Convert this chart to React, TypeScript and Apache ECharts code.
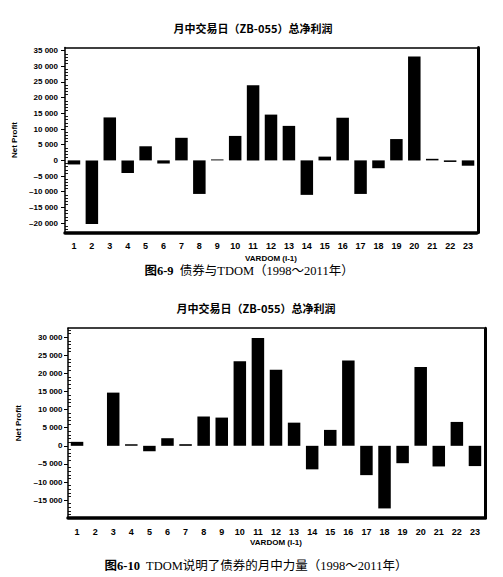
import React, { useEffect, useRef } from 'react';
import * as echarts from 'echarts';

// ---------- data ----------
const categories = ['1', '2', '3', '4', '5', '6', '7', '8', '9', '10', '11', '12', '13', '14', '15', '16', '17', '18', '19', '20', '21', '22', '23'];

// Figure 6-9: net profit by mid-month trading day (bonds vs TDOM)
const netProfitFig69 = [-1300, -20300, 13700, -4000, 4500, -1000, 7200, -10700, 300, 7800, 24000, 14600, 11000, -11000, 1200, 13600, -10700, -2500, 6800, 33100, 500, -500, -1700];

// Figure 6-10: TDOM explains the mid-month strength of bonds
const netProfitFig610 = [1100, 0, 14700, 400, -1500, 2100, 450, 8100, 7800, 23400, 29800, 21000, 6400, -6500, 4400, 23600, -8100, -17300, -4800, 21800, -5700, 6600, -5600];

const chartTitle = '月中交易日（ZB-055）总净利润';
const captionFig69 = ['图6-9', '  债券与TDOM（1998～2011年）'];
const captionFig610 = ['图6-10', '  TDOM说明了债券的月中力量（1998～2011年）'];
const yAxisName = 'Net Profit';
const xAxisName = 'VARDOM (I-1)';
const yRangeFig69 = [-23000, 36000];
const yRangeFig610 = [-20000, 32500];

// ---------- styles ----------
const SANS = "'Liberation Sans', Arial, sans-serif";
const CJK_SANS = "'Noto Sans CJK SC', sans-serif";
const CAPTION_FONT = "'Liberation Serif', 'Noto Sans CJK SC', serif";

const fmt = (v: number) => {
  const s = Math.abs(v).toString().replace(/\B(?=(\d{3})+(?!\d))/g, ' ');
  return v < 0 ? '–' + s : s;
};

type PanelCfg = {
  grid: { left: number; top: number; width: number; height: number };
  range: number[];
  splitNumber: number;
  labelMargin: number;
  yNameGap: number;
  xNameGap: number;
  data: number[];
};

function buildPanel(g: number, cfg: PanelCfg) {
  const xAxis = [
    {
      type: 'category',
      gridIndex: g,
      data: categories,
      position: 'bottom',
      boundaryGap: true,
      axisLine: { onZero: false, lineStyle: { color: '#000', width: 3.5 } },
      axisTick: { alignWithLabel: true, length: 4, lineStyle: { color: '#000', width: 1.2 } },
      axisLabel: { interval: 0, margin: 9, color: '#000', fontSize: 9, fontWeight: 'bold', fontFamily: SANS },
      splitLine: { show: false },
      name: xAxisName,
      nameLocation: 'middle',
      nameGap: cfg.xNameGap,
      nameTextStyle: { color: '#000', fontSize: 8, fontWeight: 'bold', fontFamily: SANS },
    },
    {
      type: 'category',
      gridIndex: g,
      data: categories,
      position: 'bottom',
      boundaryGap: true,
      axisLine: { show: false, onZero: false },
      axisTick: { inside: true, alignWithLabel: true, length: 4, lineStyle: { color: '#000', width: 1.2 } },
      axisLabel: { show: false },
      splitLine: { show: false },
    },
    {
      type: 'category',
      gridIndex: g,
      data: categories,
      position: 'top',
      boundaryGap: true,
      axisLine: { show: true, onZero: false, lineStyle: { color: '#000', width: 1.5 } },
      axisTick: { show: false },
      axisLabel: { show: false },
      splitLine: { show: false },
    },
  ];
  const common = {
    type: 'value',
    gridIndex: g,
    min: cfg.range[0],
    max: cfg.range[1],
    splitNumber: cfg.splitNumber,
    minInterval: 5000,
    maxInterval: 5000,
    splitLine: { show: false },
  };
  const yAxis = [
    {
      ...common,
      position: 'left',
      axisLine: { show: true, onZero: false, lineStyle: { color: '#000', width: 1.5 } },
      axisTick: { show: true, length: 4, lineStyle: { color: '#000', width: 1 } },
      axisLabel: {
        showMinLabel: false,
        showMaxLabel: false,
        margin: cfg.labelMargin,
        color: '#000',
        fontSize: 8,
        fontWeight: 'bold',
        fontFamily: SANS,
        formatter: (v: number) => fmt(v),
      },
      name: yAxisName,
      nameLocation: 'middle',
      nameRotate: 90,
      nameGap: cfg.yNameGap,
      nameTextStyle: { color: '#000', fontSize: 8, fontWeight: 'bold', fontFamily: SANS },
    },
    {
      ...common,
      position: 'left',
      axisLine: { show: false, onZero: false },
      axisTick: { show: false, inside: true },
      minorTick: { show: true, splitNumber: 5, length: 3, lineStyle: { color: '#000', width: 0.9 } },
      axisLabel: { show: false },
    },
    {
      ...common,
      position: 'right',
      offset: 1,
      axisLine: { show: true, onZero: false, lineStyle: { color: '#000', width: 3 } },
      axisTick: { show: false },
      axisLabel: { show: false },
    },
  ];
  const series = {
    type: 'bar',
    xAxisIndex: 3 * g,
    yAxisIndex: 3 * g,
    data: cfg.data,
    barWidth: 12.5,
    itemStyle: { color: '#000' },
    silent: true,
  };
  const grid = { ...cfg.grid, show: false };
  return { xAxis, yAxis, series, grid };
}

export default function App() {
  const ref = useRef<HTMLDivElement>(null);

  useEffect(() => {
    if (!ref.current) return;
    const chart = echarts.init(ref.current, undefined, { renderer: 'svg' });

    const p1 = buildPanel(0, {
      grid: { left: 65, top: 47.5, width: 412, height: 185 },
      range: yRangeFig69,
      splitNumber: 12,
      labelMargin: 7,
      yNameGap: 41,
      xNameGap: 22,
      data: netProfitFig69,
    });
    const p2 = buildPanel(1, {
      grid: { left: 68, top: 328.2, width: 416, height: 190 },
      range: yRangeFig610,
      splitNumber: 11,
      labelMargin: 5.5,
      yNameGap: 43,
      xNameGap: 20,
      data: netProfitFig610,
    });

    const titleStyle = { fill: '#000', fontSize: 11, fontWeight: 'bold', fontFamily: CJK_SANS, align: 'center', verticalAlign: 'middle' };
    const captionStyle = {
      fill: '#000',
      fontSize: 12.5,
      fontFamily: CAPTION_FONT,
      align: 'center',
      verticalAlign: 'middle',
      rich: { b: { fontSize: 12.5, fontWeight: 'bold', fontFamily: CAPTION_FONT } },
    };

    chart.setOption({
      animation: false,
      backgroundColor: '#fff',
      grid: [p1.grid, p2.grid],
      xAxis: [...p1.xAxis, ...p2.xAxis],
      yAxis: [...p1.yAxis, ...p2.yAxis],
      series: [p1.series, p2.series],
      graphic: [
        { type: 'text', x: 253, y: 28, style: { ...titleStyle, text: chartTitle } },
        { type: 'text', x: 249, y: 271, style: { ...captionStyle, text: '{b|' + captionFig69[0] + '}' + captionFig69[1] } },
        { type: 'text', x: 256, y: 308, style: { ...titleStyle, text: chartTitle } },
        { type: 'text', x: 256, y: 566, style: { ...captionStyle, text: '{b|' + captionFig610[0] + '}' + captionFig610[1] } },
      ],
    });

    return () => chart.dispose();
  }, []);

  return (
    <div
      ref={ref}
      style={{ position: 'fixed', left: 0, top: 0, width: 503, height: 577, background: '#fff' }}
    />
  );
}
